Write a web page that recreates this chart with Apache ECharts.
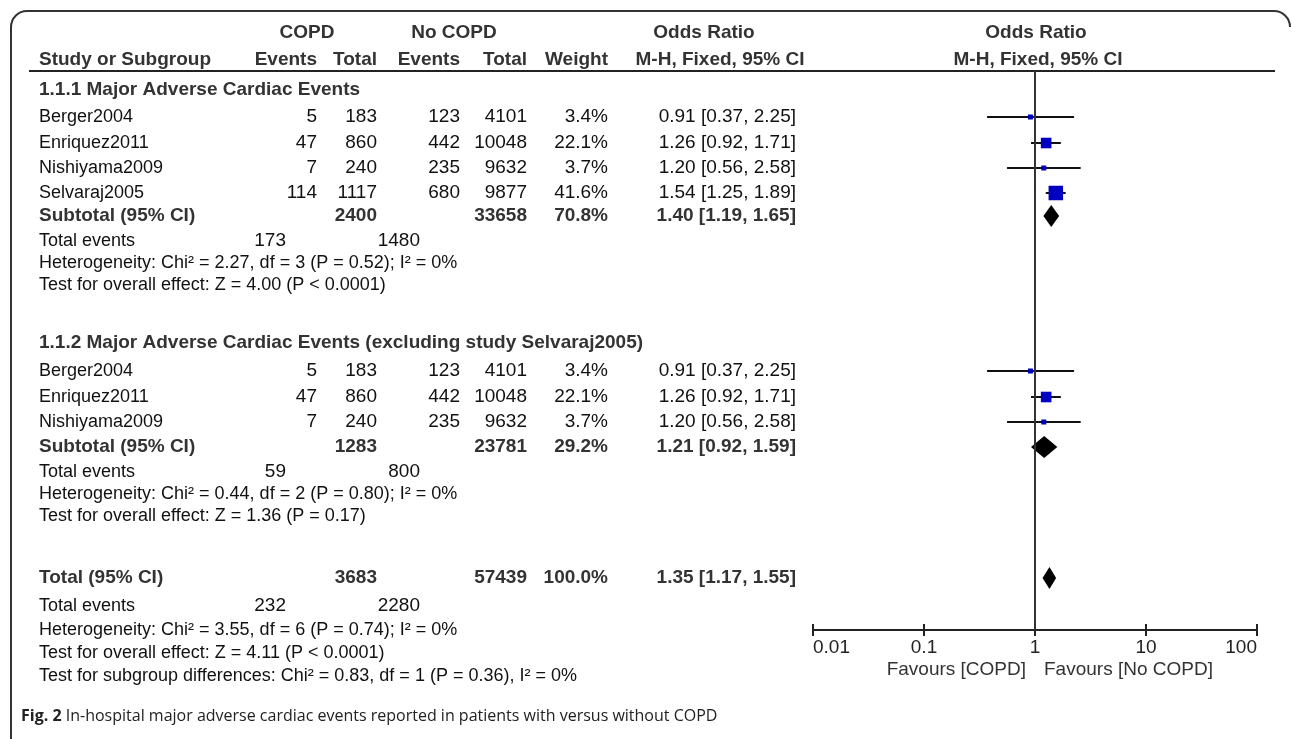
<!DOCTYPE html>
<html><head><meta charset="utf-8">
<script src="https://cdn.jsdelivr.net/npm/echarts@6/dist/echarts.min.js"></script>
<style>html,body{margin:0;padding:0;background:#fff}#c{width:1292px;height:739px}</style>
</head><body><div id="c"></div><script>
// ---------------- data ----------------
const studyNames = ['Berger2004', 'Enriquez2011', 'Nishiyama2009', 'Selvaraj2005'];
const copdEvents = [5, 47, 7, 114];
const copdTotal = [183, 860, 240, 1117];
const noEvents = [123, 442, 235, 680];
const noTotal = [4101, 10048, 9632, 9877];
const weight1 = [3.4, 22.1, 3.7, 41.6];
const weight2 = [3.4, 22.1, 3.7];
const oddsRatio = [0.91, 1.26, 1.20, 1.54];
const ciLow = [0.37, 0.92, 0.56, 1.25];
const ciHigh = [2.25, 1.71, 2.58, 1.89];
const group2Studies = [0, 1, 2];
const groupTitles = ['1.1.1 Major Adverse Cardiac Events', '1.1.2 Major Adverse Cardiac Events (excluding study Selvaraj2005)'];
const summaryLabels = ['Subtotal (95% CI)', 'Subtotal (95% CI)', 'Total (95% CI)'];
const summaryCopdTotal = [2400, 1283, 3683];
const summaryNoTotal = [33658, 23781, 57439];
const summaryWeight = [70.8, 29.2, 100.0];
const summaryOR = [1.40, 1.21, 1.35];
const summaryLow = [1.19, 0.92, 1.17];
const summaryHigh = [1.65, 1.59, 1.55];
const totalEventsCopd = [173, 59, 232];
const totalEventsNo = [1480, 800, 2280];
const heterogeneity = [
  'Heterogeneity: Chi² = 2.27, df = 3 (P = 0.52); I² = 0%',
  'Heterogeneity: Chi² = 0.44, df = 2 (P = 0.80); I² = 0%',
  'Heterogeneity: Chi² = 3.55, df = 6 (P = 0.74); I² = 0%'
];
const overallEffect = [
  'Test for overall effect: Z = 4.00 (P < 0.0001)',
  'Test for overall effect: Z = 1.36 (P = 0.17)',
  'Test for overall effect: Z = 4.11 (P < 0.0001)'
];
const subgroupTest = 'Test for subgroup differences: Chi² = 0.83, df = 1 (P = 0.36), I² = 0%';
const tickValues = [0.01, 0.1, 1, 10, 100];
const tickLabels = ['0.01', '0.1', '1', '10', '100'];
const favoursLabels = ['Favours [COPD]', 'Favours [No COPD]'];
const captionBold = 'Fig. 2';
const captionText = ' In-hospital major adverse cardiac events reported in patients with versus without COPD';

// ---------------- layout (row positions, column positions) ----------------
const ROW = {
  h1: 33, h2: 60, rule: 71, axis: 630,
  groups: [
    { title: 90, studies: [117, 143, 168, 193], sub: 216, te: 241, het: 263, test: 285 },
    { title: 343, studies: [371, 397, 422], sub: 447, te: 472, het: 494, test: 516 }
  ],
  total: { sub: 578, te: 606, het: 630, test: 653, subgroup: 676 },
  favours: 670, caption: 716
};
const COL = { name: 39, ce: 317, ct: 377, ne: 460, nt: 527, w: 608, or: 796, teC: 286, teN: 420 };
const FONT = '"Liberation Sans", Arial, Helvetica, sans-serif';

const f2 = v => v.toFixed(2);
const orText = (o, l, h) => `${f2(o)} [${f2(l)}, ${f2(h)}]`;
const wText = w => w.toFixed(1) + '%';

function T(x, y, text, align, bold, color, size) {
  return {
    type: 'text', x: x, y: y, silent: true, z: 10,
    style: {
      text: String(text),
      fill: color || (bold ? '#333' : '#111'),
      font: (bold ? 'bold ' : '') + (size || 19) + 'px ' + FONT,
      align: align || 'left', textAlign: align || 'left',
      verticalAlign: 'middle', textVerticalAlign: 'middle'
    }
  };
}
const S = 18; // size of regular label lines

const g = [];
// frame
const frameStyle = { fill: null, stroke: '#333', lineWidth: 2 };
g.push({ type: 'polyline', silent: true, shape: { points: [[11, 739], [11, 27]] }, style: frameStyle });
g.push({ type: 'polyline', silent: true, shape: { points: [[27, 11], [1274, 11]] }, style: frameStyle });
g.push({ type: 'arc', silent: true, shape: { cx: 27, cy: 27, r: 16, startAngle: Math.PI, endAngle: Math.PI * 1.5 }, style: frameStyle });
g.push({ type: 'arc', silent: true, shape: { cx: 1274, cy: 27, r: 16, startAngle: Math.PI * 1.5, endAngle: Math.PI * 2 }, style: frameStyle });
// header rule
g.push({ type: 'line', silent: true, shape: { x1: 29, y1: ROW.rule, x2: 1275, y2: ROW.rule },
  style: { stroke: '#222', lineWidth: 2 } });
// headers
g.push(T(307, ROW.h1, 'COPD', 'center', true));
g.push(T(454, ROW.h1, 'No COPD', 'center', true));
g.push(T(704, ROW.h1, 'Odds Ratio', 'center', true));
g.push(T(1036, ROW.h1, 'Odds Ratio', 'center', true));
g.push(T(COL.name, ROW.h2, 'Study or Subgroup', 'left', true));
g.push(T(COL.ce, ROW.h2, 'Events', 'right', true));
g.push(T(COL.ct, ROW.h2, 'Total', 'right', true));
g.push(T(COL.ne, ROW.h2, 'Events', 'right', true));
g.push(T(COL.nt, ROW.h2, 'Total', 'right', true));
g.push(T(COL.w, ROW.h2, 'Weight', 'right', true));
g.push(T(720, ROW.h2, 'M-H, Fixed, 95% CI', 'center', true));
g.push(T(1038, ROW.h2, 'M-H, Fixed, 95% CI', 'center', true));

const ciData = [], sqData = [], dmData = [];
const groupStudyIdx = [[0, 1, 2, 3], group2Studies];
const groupWeights = [weight1, weight2];

function summaryBlock(k, rows) {
  g.push(T(COL.name, rows.sub, summaryLabels[k], 'left', true));
  g.push(T(COL.ct, rows.sub, summaryCopdTotal[k], 'right', true));
  g.push(T(COL.nt, rows.sub, summaryNoTotal[k], 'right', true));
  g.push(T(COL.w, rows.sub, wText(summaryWeight[k]), 'right', true));
  g.push(T(COL.or, rows.sub, orText(summaryOR[k], summaryLow[k], summaryHigh[k]), 'right', true));
  g.push(T(COL.name, rows.te, 'Total events', 'left', false, null, S));
  g.push(T(COL.teC, rows.te, totalEventsCopd[k], 'right', false));
  g.push(T(COL.teN, rows.te, totalEventsNo[k], 'right', false));
  g.push(T(COL.name, rows.het, heterogeneity[k], 'left', false, null, S));
  g.push(T(COL.name, rows.test, overallEffect[k], 'left', false, null, S));
  dmData.push([summaryOR[k], summaryLow[k], summaryHigh[k], rows.sub]);
}

ROW.groups.forEach((rows, gi) => {
  g.push(T(COL.name, rows.title, groupTitles[gi], 'left', true));
  groupStudyIdx[gi].forEach((si, j) => {
    const y = rows.studies[j];
    g.push(T(COL.name, y, studyNames[si], 'left', false, null, S));
    g.push(T(COL.ce, y, copdEvents[si], 'right', false));
    g.push(T(COL.ct, y, copdTotal[si], 'right', false));
    g.push(T(COL.ne, y, noEvents[si], 'right', false));
    g.push(T(COL.nt, y, noTotal[si], 'right', false));
    g.push(T(COL.w, y, wText(groupWeights[gi][j]), 'right', false));
    g.push(T(COL.or, y, orText(oddsRatio[si], ciLow[si], ciHigh[si]), 'right', false));
    ciData.push([ciLow[si], ciHigh[si], y]);
    sqData.push([oddsRatio[si], y, groupWeights[gi][j]]);
  });
  summaryBlock(gi, rows);
});
summaryBlock(2, ROW.total);
g.push(T(COL.name, ROW.total.subgroup, subgroupTest, 'left', false, null, S));
// favours
g.push(T(1026, ROW.favours, favoursLabels[0], 'right', false, '#333'));
g.push(T(1044, ROW.favours, favoursLabels[1], 'left', false, '#333'));
// caption
g.push({ type: 'text', x: 21, y: ROW.caption, silent: true,
  style: { text: '{b|' + captionBold + '}' + captionText, fill: '#222', font: '16px "Open Sans", sans-serif',
    verticalAlign: 'middle', textVerticalAlign: 'middle',
    rich: { b: { fontFamily: '"Open Sans", sans-serif', fontWeight: 'bold', fontSize: 16, fill: '#222' } } } });

const chart = echarts.init(document.getElementById('c'), null, { renderer: 'canvas' });
const axisCommon = {
  type: 'log', logBase: 10, min: tickValues[0], max: tickValues[tickValues.length - 1],
  position: 'bottom', splitLine: { show: false }, gridIndex: 0
};
chart.setOption({
  animation: false,
  backgroundColor: '#fff',
  grid: { left: 813, width: 444, top: ROW.rule, height: ROW.axis - ROW.rule, containLabel: false },
  xAxis: [
    Object.assign({}, axisCommon, {
      axisLine: { show: true, onZero: false, lineStyle: { color: '#222', width: 2 } },
      axisTick: { show: true, length: 6, inside: false, lineStyle: { color: '#222', width: 2 } },
      axisLabel: { show: true, margin: 8, fontSize: 19, fontFamily: FONT, color: '#222',
        showMinLabel: true, showMaxLabel: true, alignMinLabel: 'left', alignMaxLabel: 'right',
        formatter: v => { const i = tickValues.findIndex(t => Math.abs(Math.log10(t) - Math.log10(v)) < 1e-6); return i >= 0 ? tickLabels[i] : ''; } }
    }),
    Object.assign({}, axisCommon, {
      axisLine: { show: false, onZero: false },
      axisTick: { show: true, length: 6, inside: true, lineStyle: { color: '#222', width: 2 } },
      axisLabel: { show: false }
    })
  ],
  yAxis: { type: 'value', min: ROW.rule, max: ROW.axis, inverse: true, show: false },
  series: [
    {
      type: 'custom', name: 'ci', xAxisIndex: 0, yAxisIndex: 0, data: ciData,
      encode: { x: [0, 1], y: 2 }, silent: true,
      renderItem: (p, api) => {
        const a = api.coord([api.value(0), api.value(2)]);
        const b = api.coord([api.value(1), api.value(2)]);
        return { type: 'line', shape: { x1: a[0], y1: a[1], x2: b[0], y2: b[1] }, style: { stroke: '#111', lineWidth: 2 } };
      },
      markLine: { silent: true, symbol: 'none', label: { show: false },
        lineStyle: { color: '#333', width: 2, type: 'solid' }, data: [{ xAxis: 1 }] }
    },
    {
      type: 'custom', name: 'squares', xAxisIndex: 0, yAxisIndex: 0, data: sqData,
      encode: { x: 0, y: 1 }, silent: true, z: 3,
      renderItem: (p, api) => {
        const c = api.coord([api.value(0), api.value(1)]);
        const s = Math.max(5, 2.25 * Math.sqrt(api.value(2)));
        return { type: 'rect', shape: { x: c[0] - s / 2, y: c[1] - s / 2, width: s, height: s }, style: { fill: '#0000c0' } };
      }
    },
    {
      type: 'custom', name: 'diamonds', xAxisIndex: 0, yAxisIndex: 0, data: dmData,
      encode: { x: [0, 1, 2], y: 3 }, silent: true, z: 3,
      renderItem: (p, api) => {
        const m = api.coord([api.value(0), api.value(3)]);
        const l = api.coord([api.value(1), api.value(3)]);
        const h = api.coord([api.value(2), api.value(3)]);
        const hh = 11;
        return { type: 'polygon', shape: { points: [[l[0], m[1]], [m[0], m[1] - hh], [h[0], m[1]], [m[0], m[1] + hh]] }, style: { fill: '#000' } };
      }
    }
  ],
  graphic: g
});
</script></body></html>
